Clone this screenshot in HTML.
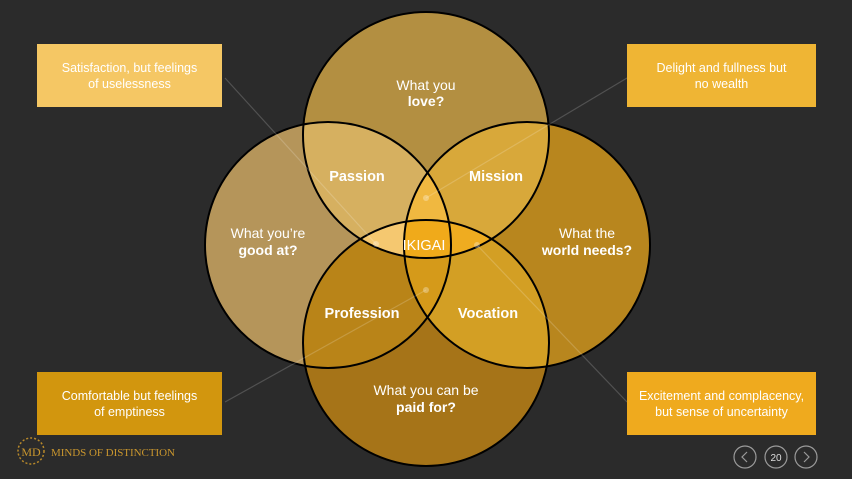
<!DOCTYPE html>
<html><head><meta charset="utf-8"><style>
html,body{margin:0;padding:0;background:#2b2b2b;width:852px;height:479px;overflow:hidden;font-family:"Liberation Sans",sans-serif}
.box{position:absolute;width:185px;height:63px;color:#fff;font-size:12.5px;line-height:16px;display:flex;align-items:center;justify-content:center;text-align:center;box-sizing:border-box;padding:0 20px}
</style></head><body>
<svg width="852" height="479" style="position:absolute;left:0;top:0">
<defs>
<clipPath id="cT"><circle cx="426" cy="135" r="123"/></clipPath>
<clipPath id="cL"><circle cx="328" cy="245" r="123"/></clipPath>
<clipPath id="cR"><circle cx="527" cy="245" r="123"/></clipPath>
<clipPath id="cB"><circle cx="426" cy="343" r="123"/></clipPath>
</defs>
<circle cx="426" cy="135" r="123" fill="#b38f41"/>
<circle cx="328" cy="245" r="123" fill="#b5955a"/>
<circle cx="527" cy="245" r="123" fill="#b8861e"/>
<circle cx="426" cy="343" r="123" fill="#a67418"/>
<g clip-path="url(#cT)"><circle cx="328" cy="245" r="123" fill="#d6b060"/><circle cx="527" cy="245" r="123" fill="#d8a83a"/></g>
<g clip-path="url(#cB)"><circle cx="328" cy="245" r="123" fill="#b98418"/><circle cx="527" cy="245" r="123" fill="#d39f24"/></g>
<g clip-path="url(#cT)"><g clip-path="url(#cB)"><circle cx="328" cy="245" r="123" fill="#f5c870"/><circle cx="527" cy="245" r="123" fill="#efac20"/></g></g>
<g clip-path="url(#cL)"><g clip-path="url(#cR)"><circle cx="426" cy="135" r="123" fill="#f0b840"/><circle cx="426" cy="343" r="123" fill="#d59a1a"/></g></g>
<g clip-path="url(#cL)"><g clip-path="url(#cR)"><g clip-path="url(#cT)"><circle cx="426" cy="343" r="123" fill="#f0aa1a"/></g></g></g>
<g fill="none" stroke="#000" stroke-width="2">
<circle cx="426" cy="135" r="123"/><circle cx="328" cy="245" r="123"/><circle cx="527" cy="245" r="123"/><circle cx="426" cy="343" r="123"/>
</g>
<g stroke="rgba(255,255,255,0.18)" stroke-width="1.2" fill="rgba(255,255,255,0.3)">
<line x1="225" y1="78" x2="376" y2="244"/><circle cx="376" cy="244" r="3" stroke="none"/>
<line x1="627" y1="78" x2="426" y2="198"/><circle cx="426" cy="198" r="3" stroke="none"/>
<line x1="225" y1="402" x2="426" y2="290"/><circle cx="426" cy="290" r="3" stroke="none"/>
<line x1="627" y1="402" x2="477" y2="245"/><circle cx="477" cy="245" r="3" stroke="none"/>
</g>
<g fill="#fff" font-family="Liberation Sans, sans-serif" text-anchor="middle" font-size="14">
<text x="426" y="90">What you</text><text x="426" y="106" font-weight="bold">love?</text>
<text x="268" y="238">What you’re</text><text x="268" y="255" font-weight="bold">good at?</text>
<text x="587" y="238">What the</text><text x="587" y="255" font-weight="bold">world needs?</text>
<text x="426" y="395">What you can be</text><text x="426" y="412" font-weight="bold">paid for?</text>
<g font-weight="bold" font-size="14.5">
<text x="357" y="181">Passion</text><text x="496" y="181">Mission</text>
<text x="362" y="318">Profession</text><text x="488" y="318">Vocation</text>
<text x="424" y="250" font-weight="normal">IKIGAI</text>
</g>
</g>
<g fill="none" stroke="#9a9a9a" stroke-width="1.2">
<circle cx="745" cy="457" r="11"/><circle cx="776" cy="457" r="11"/><circle cx="806" cy="457" r="11"/>
<polyline points="747,452 742,457 747,462"/><polyline points="804,452 809,457 804,462"/>
</g>
<text x="776" y="461" fill="#ddd" font-size="10" text-anchor="middle" font-family="Liberation Sans, sans-serif">20</text>
<circle cx="31" cy="451" r="13" fill="none" stroke="#b8892a" stroke-width="1.5" stroke-dasharray="2 2"/>
<text x="31" y="456" fill="#c9962e" font-size="12" text-anchor="middle" font-family="Liberation Serif, serif">MD</text>
<text x="51" y="456" fill="#c9962e" font-size="11" textLength="124" font-family="Liberation Serif, serif">MINDS OF DISTINCTION</text>
</svg>
<div class="box" style="left:37px;top:44px;background:#f5c764">Satisfaction, but feelings of uselessness</div>
<div class="box" style="left:627px;top:44px;width:189px;padding:0 24px;background:#efb534">Delight and fullness but no wealth</div>
<div class="box" style="left:37px;top:372px;background:#d2960e">Comfortable but feelings of emptiness</div>
<div class="box" style="left:627px;top:372px;width:189px;padding:0 6px;background:#efaa1e">Excitement and complacency, but sense of uncertainty</div>
</body></html>
